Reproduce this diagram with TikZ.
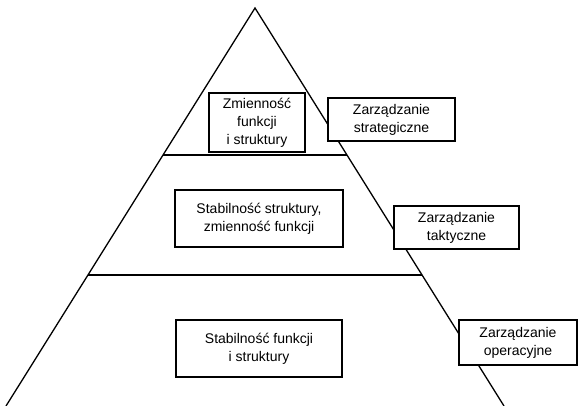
\documentclass[tikz,border=0pt]{standalone}
\usepackage{fontspec}
\setmainfont{Liberation Sans}
\begin{document}
\begin{tikzpicture}[x=1pt, y=-1pt,
    levelbox/.style={draw, fill=white, line width=1.2pt, align=center, inner sep=0pt,
        font=\fontsize{14}{18}\selectfont},
    edge/.style={line width=1.3pt}]
        \useasboundingbox (0,0) rectangle (580,406);

        % --- 1. Draw the Pyramid ---
        \coordinate (apex) at (255, 8);
        \coordinate (base_left) at (6, 406);
        \coordinate (base_right) at (504, 406);
        \draw[edge] (base_left) -- (apex) -- (base_right);

        % Level borders
        \coordinate (upper_left) at (163, 155);
        \coordinate (upper_right) at (347, 155);
        \coordinate (lower_left) at (88, 275);
        \coordinate (lower_right) at (422, 275);
        \draw[edge] (upper_left) -- (upper_right);
        \draw[edge] (lower_left) -- (lower_right);

        % --- 2. Inner Boxes (Levels) ---
        \node[levelbox, minimum width=96, minimum height=59] (top_level) at (257, 122.5)
            {Zmienność\\funkcji\\i struktury};
        \node[levelbox, minimum width=168, minimum height=57] (mid_level) at (259, 218.5)
            {Stabilność struktury,\\zmienność funkcji};
        \node[levelbox, minimum width=166, minimum height=57] (low_level) at (259, 348.5)
            {Stabilność funkcji\\i struktury};

        % --- 3. Management Boxes (Right Side) ---
        \node[levelbox, minimum width=127, minimum height=43] (strat) at (391.5, 119.5)
            {Zarządzanie\\strategiczne};
        \node[levelbox, minimum width=125, minimum height=43] (takt) at (456.5, 227.5)
            {Zarządzanie\\taktyczne};
        \node[levelbox, minimum width=118, minimum height=45] (oper) at (518, 342.5)
            {Zarządzanie\\operacyjne};

    \end{tikzpicture}
\end{document}
